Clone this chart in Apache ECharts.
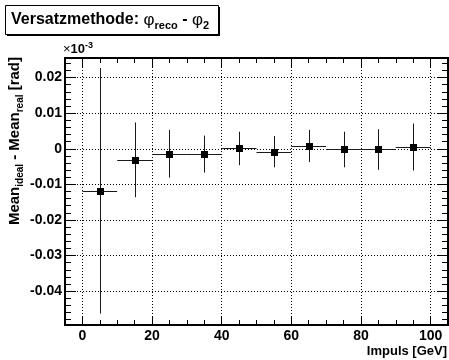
<!DOCTYPE html>
<html>
<head>
<meta charset="utf-8">
<script src="https://cdn.jsdelivr.net/npm/echarts@6/dist/echarts.min.js"></script>
<style>
  html, body { margin: 0; padding: 0; background: #fff; }
  #chart { width: 449px; height: 360px; }
</style>
</head>
<body>
<div id="chart"></div>
<script>
// Bin centres (GeV), half bin widths, mean offsets and their errors (rad)
const binCenters = [5, 15, 25, 35, 45, 55, 65, 75, 85, 95];
const binHalfWidths = [5, 5, 5, 5, 5, 5, 5, 5, 5, 5];
const meanDiff = [-0.0118, -0.0031, -0.0014, -0.0015, 0.0001, -0.0008, 0.0008, -0.0002, -0.0002, 0.0005];
const meanErr = [0.0345, 0.0105, 0.0067, 0.0052, 0.0047, 0.0044, 0.0045, 0.0050, 0.0057, 0.0066];

// Axis ticks
const xMajorTicks = [0, 20, 40, 60, 80, 100];
const xMinorTicks = [0, 5, 10, 15, 20, 25, 30, 35, 40, 45, 50, 55, 60, 65, 70, 75, 80, 85, 90, 95, 100];
const yMajorTicks = [-0.04, -0.03, -0.02, -0.01, 0, 0.01, 0.02];
const yMinorTicks = [-0.048, -0.046, -0.044, -0.042, -0.04, -0.038, -0.036, -0.034, -0.032, -0.03,
  -0.028, -0.026, -0.024, -0.022, -0.02, -0.018, -0.016, -0.014, -0.012, -0.01,
  -0.008, -0.006, -0.004, -0.002, 0, 0.002, 0.004, 0.006, 0.008, 0.01,
  0.012, 0.014, 0.016, 0.018, 0.02, 0.022, 0.024];

const xRange = [-5, 105];
const yRange = [-0.0495, 0.0255];

const FONT = '"Liberation Sans", Arial, Helvetica, sans-serif';

const chart = echarts.init(document.getElementById('chart'), null, { renderer: 'canvas' });

function tickText(v) {
  return String(+(+v).toFixed(3));
}

function frameAxis(kind, position, ticks, tickLen, withLabels, withGrid) {
  const range = kind === 'x' ? xRange : yRange;
  return {
    type: 'value',
    position: position,
    min: range[0],
    max: range[1],
    axisLine: { show: true, onZero: false, lineStyle: { color: '#000', width: 2 } },
    axisTick: { show: true, inside: true, length: tickLen, customValues: ticks,
      lineStyle: { color: '#000', width: 1 } },
    axisLabel: withLabels ? {
      show: true, customValues: ticks, margin: kind === 'x' ? 4 : 3,
      color: '#000', fontFamily: FONT, fontWeight: 'bold', fontSize: 14,
      formatter: tickText
    } : { show: false },
    splitLine: withGrid ? { show: true, lineStyle: { color: '#000', width: 1, type: [1, 2] } } : { show: false },
    minorTick: { show: false },
    minorSplitLine: { show: false }
  };
}

const errorData = binCenters.map((x, i) => [x, meanDiff[i], binHalfWidths[i], meanErr[i]]);

chart.setOption({
  animation: false,
  backgroundColor: '#fff',
  grid: { left: 65, right: 1, top: 58, bottom: 35, containLabel: false },
  xAxis: [
    frameAxis('x', 'bottom', xMajorTicks, 9, true, true),
    frameAxis('x', 'bottom', xMinorTicks, 5, false, false),
    frameAxis('x', 'top', xMajorTicks, 9, false, false),
    frameAxis('x', 'top', xMinorTicks, 5, false, false)
  ],
  yAxis: [
    frameAxis('y', 'left', yMajorTicks, 11, true, true),
    frameAxis('y', 'left', yMinorTicks, 6, false, false),
    frameAxis('y', 'right', yMajorTicks, 11, false, false),
    frameAxis('y', 'right', yMinorTicks, 6, false, false)
  ],
  series: [{
    type: 'custom',
    xAxisIndex: 0,
    yAxisIndex: 0,
    clip: true,
    data: errorData,
    renderItem: function (params, api) {
      const x = api.value(0), y = api.value(1), ex = api.value(2), ey = api.value(3);
      const c = api.coord([x, y]);
      const l = api.coord([x - ex, y]);
      const r = api.coord([x + ex, y]);
      const t = api.coord([x, y + ey]);
      const b = api.coord([x, y - ey]);
      const cx = Math.round(c[0]) + 0.5, cy = Math.round(c[1]) + 0.5;
      return {
        type: 'group',
        children: [
          { type: 'line', shape: { x1: l[0], y1: cy, x2: r[0], y2: cy },
            style: { stroke: '#1a1a1a', lineWidth: 1 } },
          { type: 'line', shape: { x1: cx, y1: t[1], x2: cx, y2: b[1] },
            style: { stroke: '#1a1a1a', lineWidth: 1 } },
          { type: 'rect', shape: { x: cx - 3.5, y: cy - 3.5, width: 7, height: 7 },
            style: { fill: '#000' } }
        ]
      };
    }
  }],
  graphic: [
    // title pave with shadow
    { type: 'rect', shape: { x: 7, y: 7, width: 213, height: 29 }, style: { fill: '#000' }, z: 10 },
    { type: 'rect', shape: { x: 5.5, y: 5.5, width: 213, height: 29 },
      style: { fill: '#fff', stroke: '#000', lineWidth: 1 }, z: 11 },
    {
      type: 'text', x: 11, y: 20, z: 12,
      style: {
        text: '{t|Versatzmethode: }{p|φ}{s|reco}{t| - }{p|φ}{s|2}',
        verticalAlign: 'middle', align: 'left',
        rich: {
          t: { fontFamily: FONT, fontWeight: 'bold', fontSize: 16, lineHeight: 22, fill: '#000', verticalAlign: 'middle' },
          p: { fontFamily: FONT, fontWeight: 'normal', fontSize: 17, lineHeight: 22, fill: '#000', verticalAlign: 'middle' },
          s: { fontFamily: FONT, fontWeight: 'bold', fontSize: 11, lineHeight: 10, fill: '#000', verticalAlign: 'bottom' }
        }
      }
    },
    // exponent marker above the y axis
    {
      type: 'text', x: 63, y: 49, z: 12,
      style: {
        text: '{n|×}{b|10}{e|-3}',
        verticalAlign: 'middle', align: 'left',
        rich: {
          n: { fontFamily: FONT, fontSize: 13, lineHeight: 16, fill: '#000', verticalAlign: 'middle' },
          b: { fontFamily: FONT, fontWeight: 'bold', fontSize: 13, lineHeight: 16, fill: '#000', verticalAlign: 'middle' },
          e: { fontFamily: FONT, fontWeight: 'bold', fontSize: 9, lineHeight: 9, fill: '#000', verticalAlign: 'top' }
        }
      }
    },
    // y axis title
    {
      type: 'text', x: 15, y: 57, rotation: Math.PI / 2, z: 12,
      style: {
        text: '{t|Mean}{s|ideal}{t| - Mean}{s|real}{t| [rad]}',
        verticalAlign: 'middle', align: 'right',
        rich: {
          t: { fontFamily: FONT, fontWeight: 'bold', fontSize: 15, lineHeight: 20, fill: '#000', verticalAlign: 'middle' },
          s: { fontFamily: FONT, fontWeight: 'bold', fontSize: 10, lineHeight: 10, fill: '#000', verticalAlign: 'bottom' }
        }
      }
    },
    // x axis title
    {
      type: 'text', x: 447, y: 351, z: 12,
      style: {
        text: 'Impuls [GeV]', align: 'right', verticalAlign: 'middle',
        fontFamily: FONT, fontWeight: 'bold', fontSize: 13, fill: '#000'
      }
    }
  ]
});
</script>
</body>
</html>
